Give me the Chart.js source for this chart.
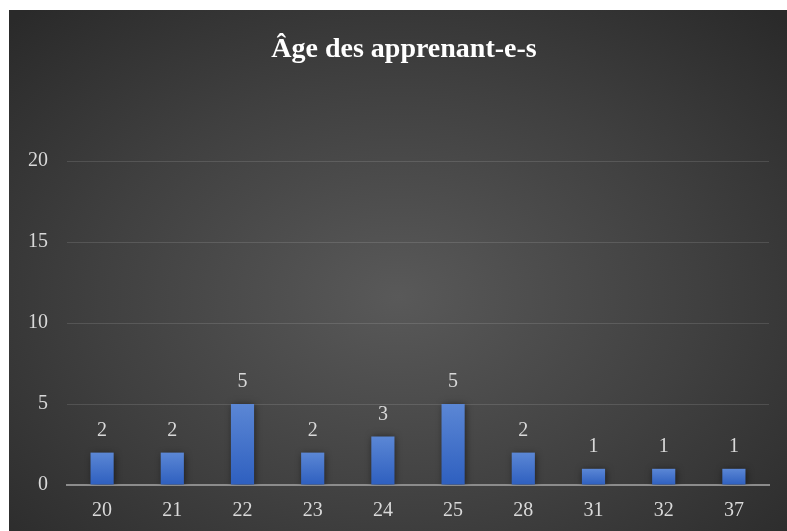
<!DOCTYPE html>
<html>
<head>
<meta charset="utf-8">
<script src="https://cdn.jsdelivr.net/npm/chart.js@4"></script>
<style>
    body { margin: 0; background: #ffffff; }
    #box {
        position: absolute; left: 9px; top: 10px; width: 778px; height: 521px;
        background: radial-gradient(ellipse 70% 75% at 50% 55%, #595959 0%, #404040 55%, #2a2a2a 100%);
    }
</style>
</head>
<body>
<div id="box"><canvas id="myChart" width="778" height="521"></canvas></div>
<script>
// 데이터
const ages = ['20', '21', '22', '23', '24', '25', '28', '31', '32', '37'];
const counts = [2, 2, 5, 2, 3, 5, 2, 1, 1, 1];
const yTicks = [0, 5, 10, 15, 20];
const chartTitle = 'Âge des apprenant-e-s';

const serif = "'Liberation Serif', 'Times New Roman', serif";

// 제목, 막대 위 값 표시, 그림자
const barExtras = {
    id: 'barExtras',
    beforeDatasetDraw(chart) {
        const ctx = chart.ctx;
        ctx.save();
        ctx.shadowColor = 'rgba(0,0,0,0.55)';
        ctx.shadowBlur = 7;
        ctx.shadowOffsetX = 1;
        ctx.shadowOffsetY = 1;
    },
    afterDatasetDraw(chart) {
        chart.ctx.restore();
    },
    afterDatasetsDraw(chart) {
        const ctx = chart.ctx;
        const meta = chart.getDatasetMeta(0);
        ctx.save();
        ctx.fillStyle = '#d9d9d9';
        ctx.font = '20px ' + serif;
        ctx.textAlign = 'center';
        ctx.textBaseline = 'middle';
        meta.data.forEach((bar, i) => {
            ctx.fillText(String(counts[i]), bar.x, bar.y - 22);
        });
        ctx.fillStyle = '#ffffff';
        ctx.font = 'bold 28px ' + serif;
        ctx.fillText(chartTitle, 395, 40);
        ctx.restore();
    }
};

function barGradient(context) {
    const chart = context.chart;
    if (!chart.chartArea) return '#4472c4';
    const y = chart.scales.y;
    const v = counts[context.dataIndex];
    const top = y.getPixelForValue(v);
    const bottom = y.getPixelForValue(0);
    const g = chart.ctx.createLinearGradient(0, top, 0, bottom);
    g.addColorStop(0, '#5b87d5');
    g.addColorStop(1, '#2e5fbf');
    return g;
}

new Chart(document.getElementById('myChart').getContext('2d'), {
    type: 'bar',
    data: {
        labels: ages,
        datasets: [{
            data: counts,
            backgroundColor: barGradient,
            borderWidth: 0,
            categoryPercentage: 1,
            barPercentage: 0.33
        }]
    },
    options: {
        responsive: false,
        animation: false,
        layout: { padding: { left: 0, right: 18, top: 151, bottom: 0 } },
        plugins: {
            legend: { display: false },
            tooltip: { enabled: false },
            title: { display: false }
        },
        scales: {
            y: {
                min: 0,
                max: 20,
                afterBuildTicks: scale => { scale.ticks = yTicks.map(v => ({ value: v })); },
                afterFit: scale => { scale.width = 58; },
                border: { display: false },
                grid: {
                    drawTicks: false,
                    color: ctx => ctx.tick && ctx.tick.value === 0 ? 'rgba(0,0,0,0)' : 'rgba(255,255,255,0.12)',
                    lineWidth: 1
                },
                ticks: {
                    color: '#d9d9d9',
                    padding: 19,
                    font: { family: serif, size: 20 }
                }
            },
            x: {
                afterFit: scale => { scale.height = 46; },
                border: { display: true, color: '#8c8c8c', width: 2 },
                grid: { display: false, drawTicks: false },
                ticks: {
                    color: '#d9d9d9',
                    padding: 14,
                    font: { family: serif, size: 20 }
                }
            }
        }
    },
    plugins: [barExtras]
});
</script>
</body>
</html>
